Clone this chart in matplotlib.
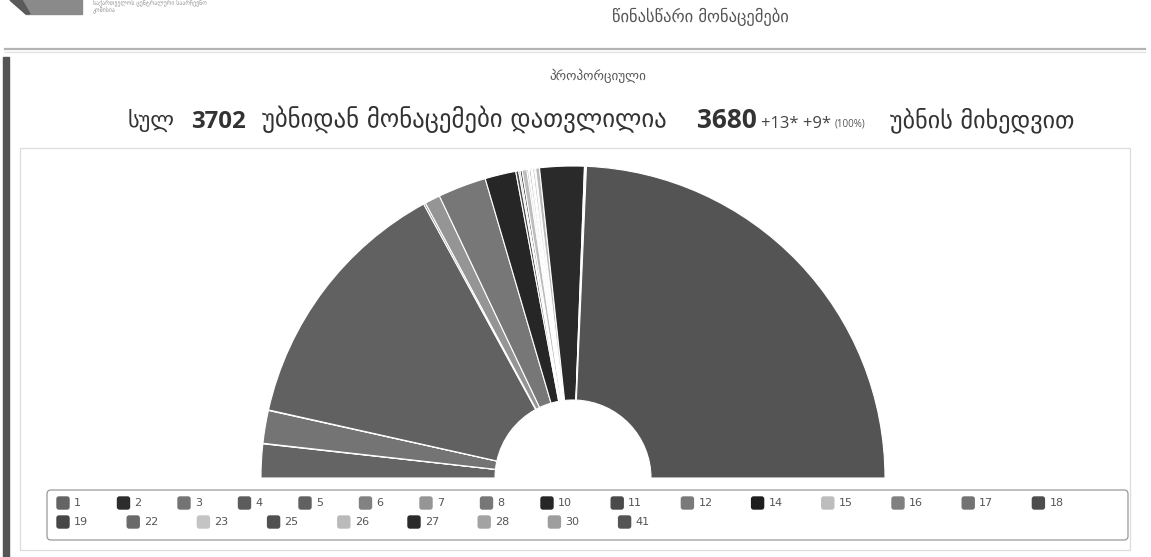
import matplotlib
matplotlib.use('Agg')
import matplotlib.pyplot as plt
from matplotlib.patches import FancyBboxPatch, Rectangle, Polygon

W, H = 1151, 557

# ---- data ----
labels = ['1', '2', '3', '4', '5', '6', '7', '8', '10', '11', '12', '14', '15',
          '16', '17', '18', '19', '22', '23', '25', '26', '27', '28', '30', '41']
values = [3.5, 0.05, 3.4, 0.05, 27.1, 0.2, 1.6, 5.0, 3.2, 0.3, 0.15, 0.2, 0.5,
          0.15, 0.1, 0.15, 0.1, 0.1, 0.2, 0.1, 0.4, 4.6, 0.1, 0.1, 48.6]
colors = ['#646464', '#2d2d2d', '#747474', '#5c5c5c', '#616161', '#828282',
          '#959595', '#777777', '#262626', '#4a4a4a', '#7a7a7a', '#1e1e1e',
          '#bdbdbd', '#808080', '#737373', '#4d4d4d', '#474747', '#6a6a6a',
          '#c4c4c4', '#505050', '#bababa', '#2a2a2a', '#a3a3a3', '#9e9e9e',
          '#545454']

header = 'წინასწარი მონაცემები'
org_line1 = 'საქართველოს ცენტრალური საარჩევნო'
org_line2 = 'კომისია'
subtitle = 'პროპორციული'
title_prefix = 'სულ'
total_precincts = '3702'
title_mid = 'უბნიდან მონაცემები დათვლილია'
counted = '3680'
extra = '+13* +9*'
pct = '(100%)'
title_suffix = 'უბნის მიხედვით'

# ---- figure ----
fig = plt.figure(figsize=(W / 100, H / 100), dpi=100)
ax = fig.add_axes([0, 0, 1, 1])


def fy(y):
    return H - y


# semi donut
cx, cy, R, r_in = 573, 478, 312, 78
total = sum(values)
wedges, _ = ax.pie(values + [total], colors=colors + ['none'], startangle=180,
                   counterclock=False, center=(cx, fy(cy)), radius=R,
                   wedgeprops=dict(width=R - r_in, edgecolor='white', linewidth=0.8))
wedges[-1].set_visible(False)

ax.set_xlim(0, W)
ax.set_ylim(0, H)
ax.set_aspect('auto')
ax.axis('off')

# frames and decorations
ax.add_patch(Rectangle((3, 0), 6, fy(57), color='#555555', zorder=3))
ax.plot([5, 1145], [fy(49), fy(49)], color='#b4b4b4', lw=1.6, zorder=3)
ax.plot([5, 1145], [fy(52), fy(52)], color='#e2e2e2', lw=1.0, zorder=3)
ax.add_patch(Rectangle((20, fy(550)), 1110, 402, fill=False, ec='#dcdcdc', lw=0.9, zorder=1))

# logo
ax.add_patch(Polygon([(10, fy(0)), (82, fy(0)), (82, fy(14)), (26, fy(14))],
                     closed=True, color='#8a8a8a', zorder=3))
ax.add_patch(Polygon([(10, fy(0)), (22, fy(0)), (30, fy(14)), (26, fy(14))],
                     closed=True, color='#5a5a5a', zorder=3))
ax.text(93, fy(3), org_line1, fontsize=4.2, color='#999999', va='center', ha='left',
        family=['DejaVu Sans'])
ax.text(93, fy(10), org_line2, fontsize=4.2, color='#999999', va='center', ha='left',
        family=['DejaVu Sans'])

renderer = fig.canvas.get_renderer()


def fit_text(x0, x1, ybase, s, fs0=14, **kw):
    t = ax.text(x0, fy(ybase), s, fontsize=fs0, ha='left', va='baseline', **kw)
    bb = t.get_window_extent(renderer=renderer)
    t.set_fontsize(fs0 * (x1 - x0) / bb.width)
    return t


# header / subtitle
fit_text(612, 790, 22, header, fs0=9, color='#555555', family=['DejaVu Sans'])
fit_text(549, 646, 80, subtitle, fs0=8, color='#555555', family=['DejaVu Sans'])

# title line
geo = dict(color='#333333', family=['DejaVu Sans'])
fit_text(128, 175, 127, title_prefix, fs0=16, **geo)
fit_text(191, 246, 128, total_precincts, fs0=16, color='#333333',
         family=['Open Sans', 'DejaVu Sans'], weight='bold')
fit_text(262, 668, 127, title_mid, fs0=16, **geo)
fit_text(697, 757, 128, counted, fs0=16, color='#333333',
         family=['Open Sans', 'DejaVu Sans'], weight='bold')
t_extra = ax.text(761, fy(128), extra, fontsize=12, color='#444444', ha='left',
                  va='baseline', family=['Open Sans', 'DejaVu Sans'])
ex_right = t_extra.get_window_extent(renderer=renderer).x1
ax.text(ex_right + 4, fy(127), pct, fontsize=7, color='#555555', ha='left',
        va='baseline', family=['Open Sans', 'DejaVu Sans'])
fit_text(890, 1075, 127, title_suffix, fs0=16, **geo)

# legend
ax.add_patch(FancyBboxPatch((47, fy(540)), 1081, 50,
                            boxstyle='round,pad=0,rounding_size=4',
                            fill=False, ec='#9a9a9a', lw=0.9, zorder=3))
x, row = 57.0, 0
row_y = [503, 522]
for lab, col in zip(labels, colors):
    w = 60.5 if len(lab) == 1 else 70.2
    if x + w > 1125:
        x, row = 57.0, row + 1
    yc = row_y[row]
    ax.add_patch(FancyBboxPatch((x, fy(yc) - 6), 12, 12,
                                boxstyle='round,pad=0,rounding_size=2',
                                color=col, zorder=4))
    ax.text(x + 17, fy(yc), lab, fontsize=8, color='#555555', va='center', ha='left',
            family=['DejaVu Sans'], zorder=4)
    x += w

fig.savefig('out.png', dpi=100)
